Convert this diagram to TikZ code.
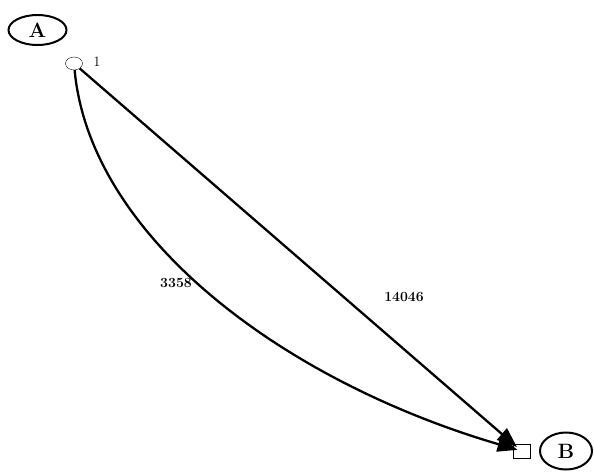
\documentclass[tikz,border=0pt]{standalone}
\usepackage{tikz}
\usetikzlibrary{arrows.meta,shapes.geometric}

\begin{document}
\begin{tikzpicture}[x=1pt, y=-1pt,
    tag/.style={draw, line width=2pt, ellipse, minimum width=58pt, minimum height=30pt, inner sep=0pt, font=\bfseries\huge},
    weight/.style={font=\bfseries\fontsize{14}{16}\selectfont},
    flow/.style={line width=2.3pt, shorten >=-5pt, -{Triangle[length=20pt, width=15pt]}}]
    \useasboundingbox (0,0) rectangle (594,472);

    % Die beiden Knotenbeschriftungen
    \node[tag] (tagA) at (37.5,30) {A};
    \node[tag, minimum width=52pt, minimum height=37pt] (tagB) at (566,451) {B};

    % Start- und Zielknoten
    \node[draw, ellipse, thin, minimum width=17pt, minimum height=13pt, inner sep=0pt] (src) at (74,63.5) {};
    \node[draw, rectangle, thin, minimum width=17pt, minimum height=14pt, inner sep=0pt] (dst) at (521.5,451) {};
    \node[font=\Large] (one) at (97,62) {1};

    % Kanten
    \draw[flow] (src) -- (dst);
    \draw[flow] (src) .. controls (90,235) and (280,380) .. (dst);

    % Kantengewichte
    \node[weight] (w3358) at (176,283) {3358};
    \node[weight] (w14046) at (404,297) {14046};

\end{tikzpicture}
\end{document}
